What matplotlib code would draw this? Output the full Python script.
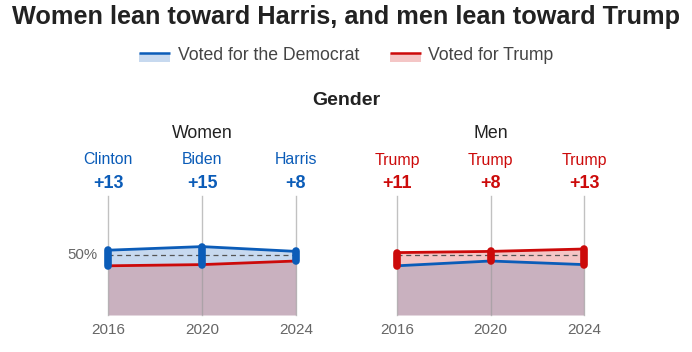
import matplotlib
matplotlib.use("Agg")
import matplotlib.pyplot as plt
import numpy as np

plt.rcParams['font.family'] = ['Liberation Sans', 'DejaVu Sans']

years = [2016, 2020, 2024]
women_dem = [54, 57, 53]
women_trump = [41, 42, 45]
men_dem = [41, 45, 42]
men_trump = [52, 53, 55]
women_winners = ["Clinton", "Biden", "Harris"]
women_margins = ["+13", "+15", "+8"]
men_winners = ["Trump", "Trump", "Trump"]
men_margins = ["+11", "+8", "+13"]

BLUE = "#0b5cb8"
RED = "#cc0a0a"
LBLUE = "#c7d9ef"
LRED = "#f4c6c6"
MAUVE = "#c9b1bf"
GRAY = "#666666"

W, H = 692, 352
fig = plt.figure(figsize=(W / 100, H / 100), dpi=100)

def ftext(x, y, s, **kw):
    fig.text(x / W, 1 - y / H, s, **kw)

ftext(12, 17, "Women lean toward Harris, and men lean toward Trump",
      fontsize=18.2, fontweight='bold', color='#222222', ha='left', va='center')

# legend
def swatch(x0, color, light):
    ax = fig.add_axes([x0 / W, 1 - 62 / H, 31 / W, 9 / H])
    ax.set_xlim(0, 1); ax.set_ylim(0, 1); ax.axis('off')
    ax.fill_between([0, 1], 0, 1, color=light, lw=0)
    ax.plot([0, 1], [1, 1], color=color, lw=1.8, clip_on=False, solid_capstyle='butt')

swatch(139, BLUE, LBLUE)
ftext(178, 56, "Voted for the Democrat", fontsize=12.7, color='#444444', ha='left', va='center')
swatch(390, RED, LRED)
ftext(428, 56, "Voted for Trump", fontsize=12.7, color='#444444', ha='left', va='center')

ftext(346, 100, "Gender", fontsize=14, fontweight='bold', color='#222222', ha='center', va='center')

y0_px, ytop_px = 315, 196
px_per = 1.2
ymax = (y0_px - ytop_px) / px_per

def panel(x_left, x_right, title, dem, rep, winners, margins, show50):
    ax = fig.add_axes([x_left / W, 1 - y0_px / H, (x_right - x_left) / W, (y0_px - ytop_px) / H])
    ax.set_xlim(years[0], years[-1])
    ax.set_ylim(0, ymax)
    ax.axis('off')
    dem = np.array(dem, float); rep = np.array(rep, float)
    lo = np.minimum(dem, rep)
    ax.fill_between(years, 0, lo, color=MAUVE, lw=0, zorder=1)
    ax.fill_between(years, lo, dem, where=dem >= rep, color=LBLUE, lw=0, zorder=1, interpolate=True)
    ax.fill_between(years, lo, rep, where=rep >= dem, color=LRED, lw=0, zorder=1, interpolate=True)
    for yr in years:
        ax.plot([yr, yr], [0, ymax], color='#999999', lw=1, alpha=0.6, zorder=2, clip_on=False)
    ax.plot([years[0], years[-1]], [50, 50], color='#555555', lw=0.9, ls=(0, (4, 3)), zorder=3)
    ax.plot(years, rep, color=RED, lw=2, zorder=4, clip_on=False)
    ax.plot(years, dem, color=BLUE, lw=2, zorder=4, clip_on=False)
    for i, yr in enumerate(years):
        c = BLUE if dem[i] > rep[i] else RED
        ax.plot([yr, yr], [min(dem[i], rep[i]), max(dem[i], rep[i])], color=c, lw=5.5,
                solid_capstyle='round', zorder=5, clip_on=False)
    xs = np.linspace(x_left, x_right, len(years))
    for i, yr in enumerate(years):
        c = BLUE if dem[i] > rep[i] else RED
        ftext(xs[i], 160, winners[i], fontsize=11.4, color=c, ha='center', va='center')
        ftext(xs[i], 183, margins[i], fontsize=12.9, fontweight='bold', color=c, ha='center', va='center')
        ftext(xs[i], 330, str(yr), fontsize=11, color=GRAY, ha='center', va='center')
    ftext((x_left + x_right) / 2, 134, title, fontsize=12.8, color='#222222', ha='center', va='center')
    if show50:
        ftext(97, y0_px - 50 * px_per, "50%", fontsize=10.8, color=GRAY, ha='right', va='center')

panel(108, 296, "Women", women_dem, women_trump, women_winners, women_margins, True)
panel(397, 584, "Men", men_dem, men_trump, men_winners, men_margins, False)

fig.savefig("out.png", dpi=100)
